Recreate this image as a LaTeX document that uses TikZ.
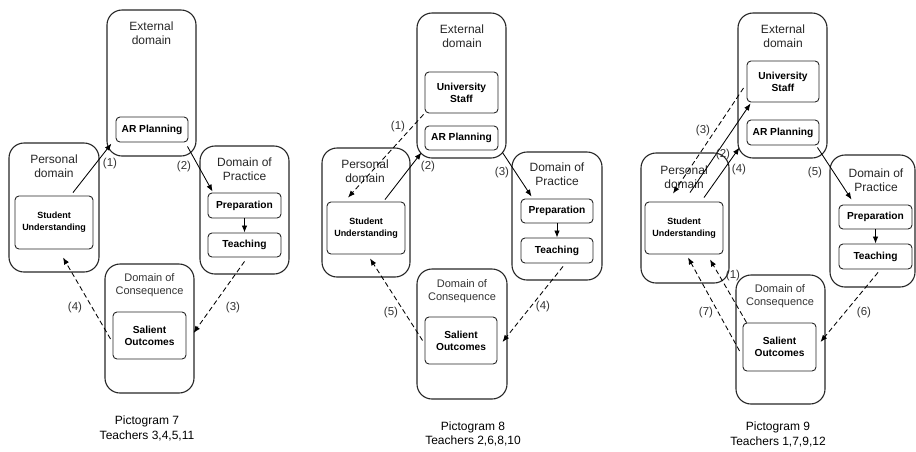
\documentclass[tikz,border=0pt]{standalone}
\usepackage{fontspec}
\setmainfont{Liberation Sans}
\usetikzlibrary{arrows.meta}
\begin{document}
\begin{tikzpicture}[x=1pt,y=-1pt,
  dom/.style={draw=black!85,line width=1.1pt,rounded corners=15pt,inner sep=0pt},
  inbox/.style={draw=black!85,line width=0.9pt,rounded corners=4pt,inner sep=0pt,align=center,
     font=\fontsize{10.2}{12}\selectfont\bfseries},
  subox/.style={inbox,font=\fontsize{9}{12}\selectfont\bfseries},
  title/.style={align=center,inner sep=0pt,text=black!85,font=\fontsize{12}{14}\selectfont},
  ctitle/.style={align=center,inner sep=0pt,text=black!80,font=\fontsize{11}{13}\selectfont},
  lab/.style={inner sep=0pt,text=black!80,font=\fontsize{11.5}{13}\selectfont},
  captext/.style={align=center,inner sep=0pt,font=\fontsize{12}{14.5}\selectfont},
  sol/.style={line width=0.85pt,-{Latex[length=7pt,width=5.5pt]}},
  das/.style={sol,dash pattern=on 5pt off 3pt}
]
\useasboundingbox (0,0) rectangle (916,451);
% ===== Pictogram 7 =====
\node[dom,minimum width=89pt,minimum height=146pt] (E7) at (151.5,83) {};
\node[title] (tE7) at (151.5,33) {External\\domain};
\node[inbox,minimum width=72pt,minimum height=25pt] (AR7) at (152,129.5) {AR Planning};
\node[dom,minimum width=90pt,minimum height=129pt] (P7) at (54,207.5) {};
\node[title] (tP7) at (54,166) {Personal\\domain};
\node[subox,minimum width=78pt,minimum height=53pt] (SU7) at (54,222.5) {Student\\Understanding};
\node[dom,minimum width=89pt,minimum height=128pt] (D7) at (244.5,210) {};
\node[title] (tD7) at (244.5,169) {Domain of\\Practice};
\node[inbox,minimum width=73pt,minimum height=25pt] (Pr7) at (244.5,205.5) {Preparation};
\node[inbox,minimum width=73pt,minimum height=24pt] (Te7) at (244.5,245) {Teaching};
\node[dom,minimum width=89pt,minimum height=129pt] (C7) at (149.5,328.5) {};
\node[ctitle] (tC7) at (149.5,285.5) {Domain of\\Consequence};
\node[inbox,minimum width=73pt,minimum height=47pt] (SO7) at (149.5,335.5) {Salient\\Outcomes};
\node[captext] (cap7) at (147,428.5) {Pictogram 7\\Teachers 3,4,5,11};
\draw[sol] ([xshift=19pt,yshift=3pt]SU7.north) -- ([xshift=5pt,yshift=13pt]E7.south west);
\draw[sol] ([xshift=-1pt,yshift=-4pt]AR7.south east) -- ([xshift=5pt,yshift=1pt]Pr7.north west);
\draw[sol] (Pr7.south) -- (Te7.north);
\draw[das] ([yshift=-4pt]Te7.south) -- ([xshift=-1pt,yshift=-4.5pt]C7.east);
\draw[das] ([xshift=-2pt,yshift=-3.5pt]SO7.west) -- ([xshift=9pt,yshift=-8pt]SU7.south);
\node[lab] (l71) at (110,164) {(1)};
\node[lab] (l72) at (184,167) {(2)};
\node[lab] (l73) at (233,308) {(3)};
\node[lab] (l74) at (75,308) {(4)};
% ===== Pictogram 8 =====
\node[dom,minimum width=89pt,minimum height=145pt] (E8) at (461.5,85.5) {};
\node[title] (tE8) at (462,36) {External\\domain};
\node[inbox,minimum width=73pt,minimum height=41pt] (US8) at (461.5,92.5) {University\\Staff};
\node[inbox,minimum width=73pt,minimum height=24pt] (AR8) at (461.5,138) {AR Planning};
\node[dom,minimum width=88pt,minimum height=129pt] (P8) at (366,212.5) {};
\node[title] (tP8) at (365,171) {Personal\\domain};
\node[subox,minimum width=78pt,minimum height=52pt] (SU8) at (366,228) {Student\\Understanding};
\node[dom,minimum width=90pt,minimum height=128pt] (D8) at (557,216) {};
\node[title] (tD8) at (557,174.5) {Domain of\\Practice};
\node[inbox,minimum width=72pt,minimum height=24pt] (Pr8) at (557,211) {Preparation};
\node[inbox,minimum width=72pt,minimum height=25pt] (Te8) at (557,250.5) {Teaching};
\node[dom,minimum width=90pt,minimum height=130pt] (C8) at (462,334) {};
\node[ctitle] (tC8) at (462,291.5) {Domain of\\Consequence};
\node[inbox,minimum width=72pt,minimum height=47pt] (SO8) at (461,340.5) {Salient\\Outcomes};
\node[captext] (cap8) at (473,434) {Pictogram 8\\Teachers 2,6,8,10};
\draw[das] ([xshift=-1pt,yshift=-1pt]US8.south west) -- ([xshift=-18pt,yshift=4pt]SU8.north);
\draw[sol] ([xshift=19pt,yshift=2pt]SU8.north) -- ([xshift=5pt,yshift=6pt]E8.south west);
\draw[sol] ([xshift=4pt,yshift=-2pt]AR8.south east) -- ([xshift=11pt,yshift=2pt]Pr8.north west);
\draw[sol] (Pr8.south) -- (Te8.north);
\draw[das] ([xshift=6pt,yshift=-3pt]Te8.south) -- ([xshift=5pt,yshift=-1.5pt]SO8.east);
\draw[das] ([xshift=-2pt]SO8.west) -- ([xshift=4pt,yshift=-4pt]SU8.south);
\node[lab] (l81) at (398,127) {(1)};
\node[lab] (l82) at (428,167) {(2)};
\node[lab] (l83) at (502,173) {(3)};
\node[lab] (l84) at (543,307) {(4)};
\node[lab] (l85) at (391,313) {(5)};
% ===== Pictogram 9 =====
\node[dom,minimum width=89pt,minimum height=145pt] (E9) at (782.5,85.5) {};
\node[title] (tE9) at (783,36) {External\\domain};
\node[inbox,minimum width=72pt,minimum height=41pt] (US9) at (783,81.5) {University\\Staff};
\node[inbox,minimum width=72pt,minimum height=25pt] (AR9) at (783,132.5) {AR Planning};
\node[dom,minimum width=88pt,minimum height=130pt] (P9) at (685,218) {};
\node[title] (tP9) at (684,177) {Personal\\domain};
\node[subox,minimum width=78pt,minimum height=52pt] (SU9) at (684,228) {Student\\Understanding};
\node[dom,minimum width=85pt,minimum height=132pt] (D9) at (872.5,221) {};
\node[title] (tD9) at (876,180) {Domain of\\Practice};
\node[inbox,minimum width=73pt,minimum height=24pt] (Pr9) at (875.5,217) {Preparation};
\node[inbox,minimum width=73pt,minimum height=25pt] (Te9) at (875.5,256.5) {Teaching};
\node[dom,minimum width=89pt,minimum height=129pt] (C9) at (780.5,339.5) {};
\node[ctitle] (tC9) at (780,296.5) {Domain of\\Consequence};
\node[inbox,minimum width=73pt,minimum height=48pt] (SO9) at (779.5,347) {Salient\\Outcomes};
\node[captext] (cap9) at (778,434.5) {Pictogram 9\\Teachers 1,7,9,12};
\draw[das] ([xshift=-3pt,yshift=-6.5pt]US9.west) -- ([xshift=-11pt,yshift=8pt]SU9.north);
\draw[sol] ([xshift=6pt,yshift=9pt]SU9.north) -- ([xshift=4pt,yshift=-1pt]US9.south west);
\draw[sol] ([xshift=20pt,yshift=4pt]SU9.north) -- ([xshift=2pt,yshift=11pt]E9.south west);
\draw[sol] ([xshift=-2pt,yshift=-2pt]AR9.south east) -- ([xshift=13pt,yshift=5pt]Pr9.north west);
\draw[sol] (Pr9.south) -- (Te9.north);
\draw[das] ([xshift=2.5pt,yshift=-3pt]Te9.south) -- ([xshift=4pt,yshift=5pt]SO9.east);
\draw[das] ([xshift=4pt]SO9.north west) -- ([xshift=26pt,yshift=-5pt]SU9.south);
\draw[das] ([xshift=-3pt,yshift=-4pt]SO9.west) -- ([xshift=4pt,yshift=-3pt]SU9.south);
\node[lab] (l93) at (703,131) {(3)};
\node[lab] (l92) at (723,155) {(2)};
\node[lab] (l94) at (739,170) {(4)};
\node[lab] (l95) at (815,173) {(5)};
\node[lab] (l96) at (864,313) {(6)};
\node[lab] (l91) at (733,276) {(1)};
\node[lab] (l97) at (706,313) {(7)};
\end{tikzpicture}
\end{document}
